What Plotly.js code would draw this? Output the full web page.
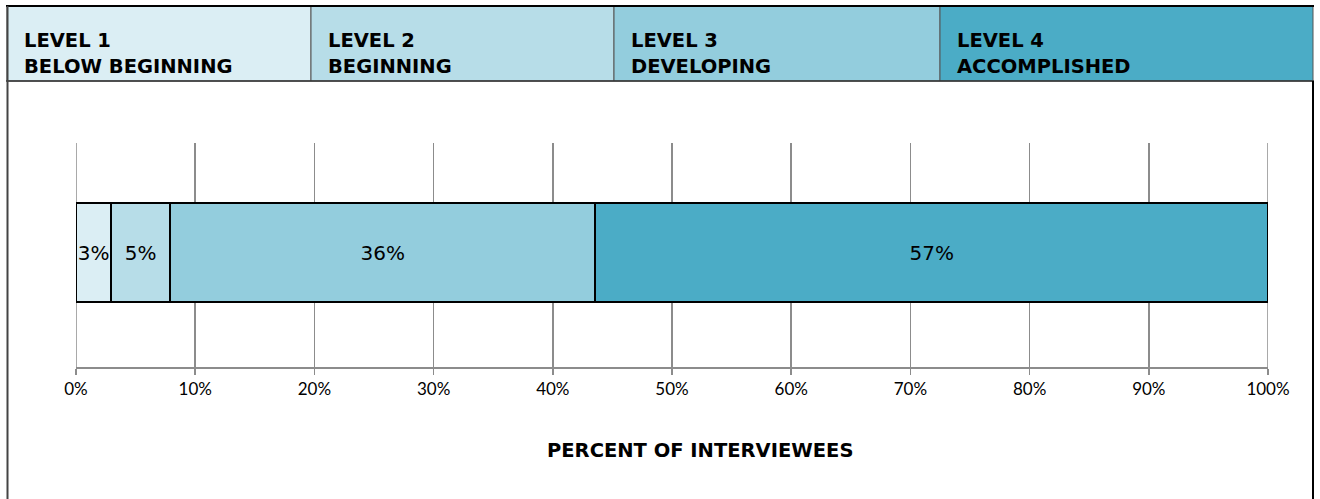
<!DOCTYPE html>
<html>
<head>
<meta charset="utf-8">
<script src="https://cdn.plot.ly/plotly-3.0.1.min.js"></script>
<style>
html,body{margin:0;padding:0;background:#fff;}
#chart{width:1320px;height:499px;}
</style>
</head>
<body>
<div id="chart"></div>
<script>
// Data
const levelNames = ["LEVEL 1", "LEVEL 2", "LEVEL 3", "LEVEL 4"];
const levelLabels = ["BELOW BEGINNING", "BEGINNING", "DEVELOPING", "ACCOMPLISHED"];
const values = [2.94, 4.97, 35.66, 56.43];
const valueLabels = ["3%", "5%", "36%", "57%"];
const tickValues = [0, 10, 20, 30, 40, 50, 60, 70, 80, 90, 100];
const tickLabels = ["0%", "10%", "20%", "30%", "40%", "50%", "60%", "70%", "80%", "90%", "100%"];
const axisTitle = "PERCENT OF INTERVIEWEES";

const colors = ["#dbeef4", "#b7dde8", "#93cddd", "#4bacc6"];
const HFONT = {family: "DejaVu Sans", size: 19.5, color: "#000", weight: "bold"};

const traces = values.map((v, i) => ({
  type: "bar",
  orientation: "h",
  y: [0],
  x: [v],
  width: 0.442,
  name: levelNames[i] + " " + levelLabels[i],
  text: [valueLabels[i]],
  textposition: "inside",
  insidetextanchor: "middle",
  textangle: 0,
  constraintext: "none",
  cliponaxis: false,
  textfont: {family: "DejaVu Sans", size: 20, color: "#000"},
  marker: {color: colors[i], line: {color: "#000", width: 1.8}},
  hoverinfo: "skip",
  showlegend: false
}));

// layout geometry in paper coords (plot area: x 76..1268, y 143..367 px)
const L = 76, R = 1268, T = 143, B = 367;
const px = v => (v - L) / (R - L);
const py = v => (B - v) / (B - T);

const boxEdges = [7, 311, 614, 940, 1313];
const shapes = [];
const annotations = [];
// end gridlines (0% and 100%)
[tickValues[0], tickValues[tickValues.length - 1]].forEach(t => {
  shapes.push({type: "line", xref: "x", yref: "paper", x0: t, x1: t, y0: 0, y1: 1,
    line: {color: "#8c8c8c", width: 1.5}, layer: "below"});
});
for (let i = 0; i < 4; i++) {
  shapes.push({type: "rect", xref: "paper", yref: "paper",
    x0: px(boxEdges[i]), x1: px(boxEdges[i + 1]), y0: py(81), y1: py(6),
    fillcolor: colors[i], line: {color: "#555", width: 1}, layer: "below"});
  annotations.push({xref: "paper", yref: "paper", x: px(boxEdges[i] + 15), y: py(40),
    xanchor: "left", yanchor: "middle", align: "left", showarrow: false,
    text: levelNames[i], font: HFONT});
  annotations.push({xref: "paper", yref: "paper", x: px(boxEdges[i] + 15), y: py(66),
    xanchor: "left", yanchor: "middle", align: "left", showarrow: false,
    text: levelLabels[i], font: HFONT});
}
// header top/bottom borders
shapes.push({type: "line", xref: "paper", yref: "paper", x0: px(6), x1: px(1314), y0: py(6), y1: py(6), line: {color: "#000", width: 2}});
shapes.push({type: "line", xref: "paper", yref: "paper", x0: px(6), x1: px(1314), y0: py(81), y1: py(81), line: {color: "#333", width: 1.5}});
// outer frame sides
shapes.push({type: "line", xref: "paper", yref: "paper", x0: px(7.5), x1: px(7.5), y0: py(6), y1: py(499), line: {color: "#444", width: 2}});
shapes.push({type: "line", xref: "paper", yref: "paper", x0: px(1313), x1: px(1313), y0: py(81), y1: py(499), line: {color: "#000", width: 2}});

annotations.push({xref: "paper", yref: "paper", x: px(700), y: py(450), xanchor: "center", yanchor: "middle",
  showarrow: false, text: axisTitle, font: HFONT});

const layout = {
  width: 1320, height: 499,
  margin: {l: L, r: 1320 - R, t: T, b: 499 - B, pad: 0},
  paper_bgcolor: "#fff", plot_bgcolor: "#fff",
  barmode: "stack",
  showlegend: false,
  xaxis: {
    range: [0, 100], tickvals: tickValues, ticktext: tickLabels,
    showgrid: true, gridcolor: "#8c8c8c", gridwidth: 1.5,
    zeroline: false, showline: true, linecolor: "#8c8c8c", linewidth: 1.5,
    ticks: "outside", ticklen: 6, tickcolor: "#8c8c8c", tickwidth: 1.5,
    tickfont: {family: "Lato", size: 17, color: "#000"}, fixedrange: true
  },
  yaxis: {range: [-0.511, 0.489], showticklabels: false, showgrid: false, zeroline: false, showline: false, fixedrange: true},
  shapes: shapes,
  annotations: annotations
};

Plotly.newPlot("chart", traces, layout, {displayModeBar: false, staticPlot: true});
</script>
</body>
</html>
